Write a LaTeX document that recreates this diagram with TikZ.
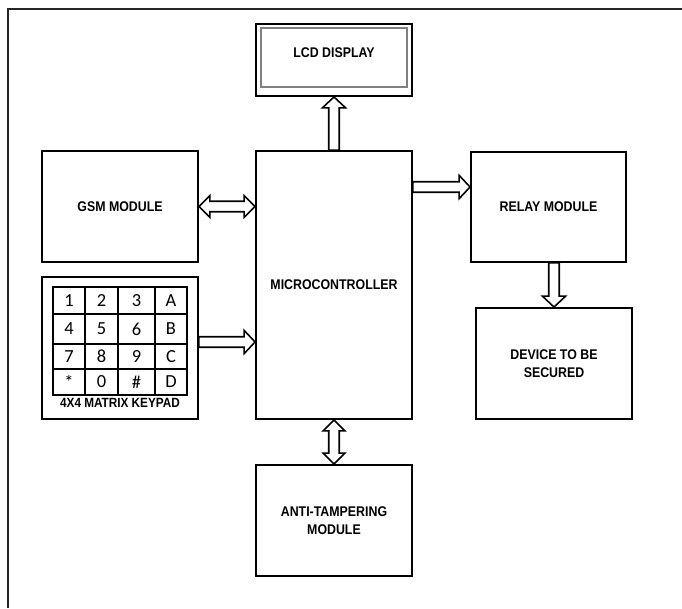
\documentclass[tikz,border=0pt]{standalone}
\usepackage{fontspec}
\setmainfont{Liberation Sans}
\newfontfamily\keyfont{Carlito}
\newfontfamily\labelfont{Liberation Sans}[FakeStretch=0.88]
\usetikzlibrary{calc}

\tikzset{
  block/.style={draw, line width=1.1pt, inner sep=0pt, align=center,
    font=\labelfont\bfseries\fontsize{8}{10}\selectfont},
  fat/.style={draw, line width=0.9pt, line join=miter},
  frame/.style={draw=black!85, line width=1.7pt},
  keygrid/.style={draw, line width=1pt},
}

% block arrow with one head, from #1 to #2
\newcommand{\fatarrow}[2]{%
  \draw[fat] let \p1=(#1), \p2=(#2), \n1={veclen(\x2-\x1,\y2-\y1)},
    \n2={atan2(\y2-\y1,\x2-\x1)} in [shift={(\p1)}, rotate=\n2]
    (0pt,-3pt) -- ({\n1*1pt-6.2pt},-3pt) -- ({\n1*1pt-6.2pt},-6.6pt)
    -- ({\n1*1pt},0pt) -- ({\n1*1pt-6.2pt},6.6pt) -- ({\n1*1pt-6.2pt},3pt)
    -- (0pt,3pt) -- cycle;}
% block arrow with two heads
\newcommand{\fatdarrow}[2]{%
  \draw[fat] let \p1=(#1), \p2=(#2), \n1={veclen(\x2-\x1,\y2-\y1)},
    \n2={atan2(\y2-\y1,\x2-\x1)} in [shift={(\p1)}, rotate=\n2]
    (0pt,0pt) -- (6.2pt,6.2pt) -- (6.2pt,3pt) -- ({\n1*1pt-6.2pt},3pt)
    -- ({\n1*1pt-6.2pt},6.2pt) -- ({\n1*1pt},0pt) -- ({\n1*1pt-6.2pt},-6.2pt)
    -- ({\n1*1pt-6.2pt},-3pt) -- (6.2pt,-3pt) -- (6.2pt,-6.2pt) -- cycle;}

\begin{document}
\begin{tikzpicture}[x=0.02cm, y=-0.02cm]
  \useasboundingbox (0,0) rectangle (682,608);
  \draw[frame] (682,9) -- (8,9) -- (8,608);

  % blocks
  \node[block, minimum width=3.12cm, minimum height=1.44cm] (lcd) at (334,60) {};
  \draw[gray, line width=0.9pt] ($(lcd.north west)+(6,5)$) rectangle ($(lcd.south east)+(-6,-10)$);
  \node[font=\labelfont\bfseries\fontsize{8}{10}\selectfont] (lcdtext) at (334,53) {LCD DISPLAY};
  \node[block, minimum width=3.12cm, minimum height=5.36cm] (mcu) at (334,285) {MICROCONTROLLER};
  \node[block, minimum width=3.12cm, minimum height=2.22cm] (gsm) at (120,206.5) {GSM MODULE};
  \node[block, minimum width=3.12cm, minimum height=2.84cm] (keypad) at (120,348) {};
  \node[block, minimum width=3.10cm, minimum height=2.20cm] (relay) at (548.5,207) {RELAY MODULE};
  \node[block, minimum width=3.12cm, minimum height=2.22cm] (device) at (554,363.5) {DEVICE TO BE\\SECURED};
  \node[block, minimum width=3.12cm, minimum height=2.22cm] (tamper) at (334,520.5) {ANTI-TAMPERING\\MODULE};

  % keypad
  \draw[keygrid] (53,287) rectangle (187,395);
  \foreach \x in {85,118,155}
    \draw[keygrid] (\x,287) -- (\x,395);
  \foreach \y in {314,344,369}
    \draw[keygrid] (53,\y) -- (187,\y);
  \foreach \row [count=\r] in {{1,2,3,A},{4,5,6,B},{7,8,9,C},{*,0,\#,D}}
    \foreach \key [count=\c] in \row {
      \pgfmathsetmacro\kx{{69,101.5,136.5,171}[\c-1]}
      \pgfmathsetmacro\ky{{300.5,329,356.5,382}[\r-1]}
      \node[font=\keyfont\fontsize{10.5}{12}\selectfont] (key\r\c) at (\kx,\ky) {\key};
    }
  \node[font=\labelfont\bfseries\fontsize{7.6}{9}\selectfont] (keylabel) at (120,403) {4X4 MATRIX KEYPAD};

  % connectors
  \coordinate (relayin) at ($(relay.west)+(0,-20)$);
  \coordinate (keyout) at ($(keypad.east)+(0,-6)$);
  \fatarrow{mcu.north}{lcd.south}
  \fatdarrow{gsm.east}{gsm.east -| mcu.west}
  \fatarrow{keyout}{keyout -| mcu.west}
  \fatarrow{mcu.east |- relayin}{relayin}
  \fatarrow{device.north |- relay.south}{device.north}
  \fatdarrow{mcu.south}{tamper.north}
\end{tikzpicture}
\end{document}
